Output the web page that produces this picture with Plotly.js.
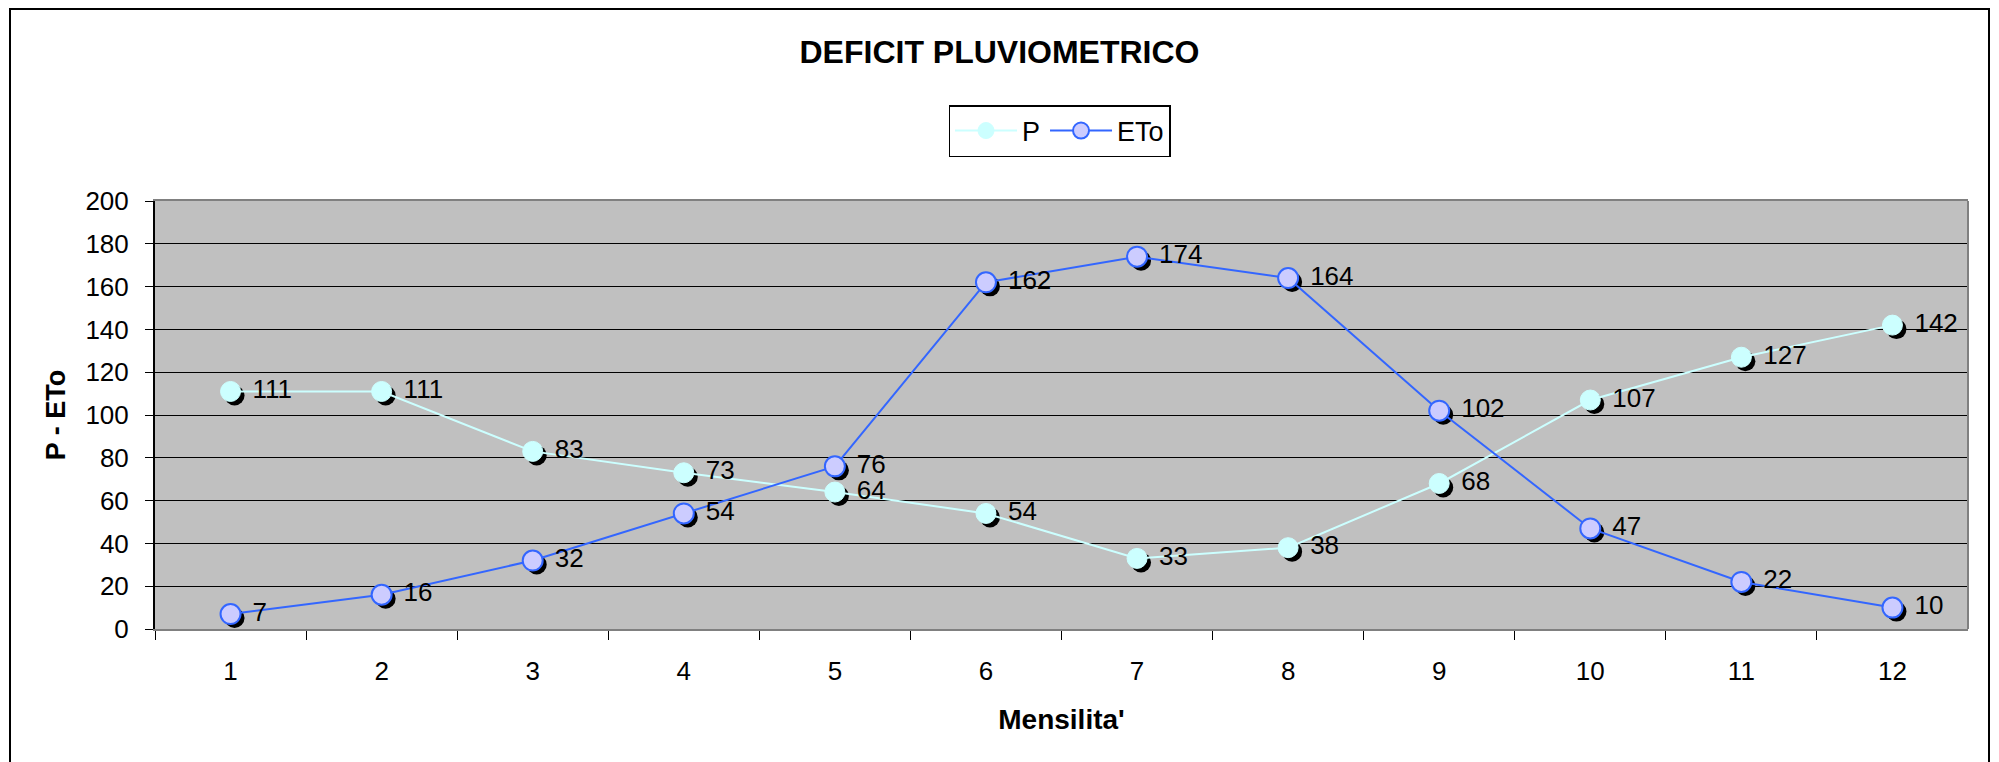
<!DOCTYPE html>
<html>
<head>
<meta charset="utf-8">
<script src="https://cdn.plot.ly/plotly-3.0.1.min.js"></script>
<style>html,body{margin:0;padding:0;background:#fff;}#chart{width:1999px;height:762px;}</style>
</head>
<body>
<div id="chart"></div>
<script>
// ---- data ----
const months = ['1','2','3','4','5','6','7','8','9','10','11','12'];
const pValues = [111, 111, 83, 73, 64, 54, 33, 38, 68, 107, 127, 142];
const etoValues = [7, 16, 32, 54, 76, 162, 174, 164, 102, 47, 22, 10];
const yTicks = [0, 20, 40, 60, 80, 100, 120, 140, 160, 180, 200];

// ---- geometry (styling) ----
const W = 1999, H = 762;
const plotL = 155, plotR = 1968, plotT = 201, plotB = 629;
const shadowPx = 4;
const labelPx = 22;
const xDom = [plotL / W, plotR / W];
const yDom = [(H - plotB) / H, (H - plotT) / H];
const xPerPx = 12 / (plotR - plotL);
const yPerPx = 200 / (plotB - plotT);

const FONT = 'Arial, "Liberation Sans", sans-serif';
const labelFont = {family: FONT, size: 26, color: '#000000'};

const shadowStyle = {size: 20, color: '#000000', line: {width: 0}};

const traces = [
  // shadows (base subplot, offset by a few pixels)
  {x: months, y: pValues, xaxis: 'x', yaxis: 'y', type: 'scatter', mode: 'markers',
   marker: shadowStyle, showlegend: false, hoverinfo: 'skip', cliponaxis: false},
  {x: months, y: etoValues, xaxis: 'x', yaxis: 'y', type: 'scatter', mode: 'markers',
   marker: shadowStyle, showlegend: false, hoverinfo: 'skip', cliponaxis: false},
  // main series
  {x: months, y: pValues, xaxis: 'x2', yaxis: 'y2', type: 'scatter', name: 'P',
   mode: 'lines+markers',
   line: {color: '#CCFFFF', width: 2},
   marker: {size: 20, color: '#CCFFFF', line: {color: '#CCFFFF', width: 1}},
   cliponaxis: false},
  {x: months, y: etoValues, xaxis: 'x2', yaxis: 'y2', type: 'scatter', name: 'ETo',
   mode: 'lines+markers',
   line: {color: '#3366FF', width: 2},
   marker: {size: 20, color: '#CCCCFF', line: {color: '#3366FF', width: 2}},
   cliponaxis: false},
  // data labels (on an overlay axis shifted so labels sit right of the markers)
  {x: months, y: pValues, xaxis: 'x3', yaxis: 'y2', type: 'scatter', mode: 'text',
   text: pValues.map(String), textposition: 'middle right', textfont: labelFont,
   showlegend: false, hoverinfo: 'skip', cliponaxis: false},
  {x: months, y: etoValues, xaxis: 'x3', yaxis: 'y2', type: 'scatter', mode: 'text',
   text: etoValues.map(String), textposition: 'middle right', textfont: labelFont,
   showlegend: false, hoverinfo: 'skip', cliponaxis: false}
];

const layout = {
  width: W, height: H,
  margin: {l: 0, r: 0, t: 0, b: 0},
  paper_bgcolor: '#FFFFFF',
  plot_bgcolor: '#C0C0C0',
  font: {family: FONT, color: '#000000', size: 26},
  showlegend: true,
  title: {text: '<b>DEFICIT PLUVIOMETRICO</b>', font: {family: FONT, size: 32, color: '#000000'},
          x: 0.5, xref: 'paper', xanchor: 'center', y: (H - 52) / H, yref: 'paper', yanchor: 'middle'},
  legend: {orientation: 'h', x: (941 + 1178) / 2 / W, xanchor: 'center', y: (H - 105) / H, yanchor: 'top',
           bordercolor: '#000000', borderwidth: 1.5, bgcolor: '#FFFFFF',
           font: {family: FONT, size: 27, color: '#000000'}, itemwidth: 62, tracegroupgap: 0},
  // base (shadow) axes, hidden, ranges shifted so marks land a few pixels right/down
  xaxis: {domain: xDom, type: 'category', visible: false,
          range: [-0.5 - shadowPx * xPerPx, 11.5 - shadowPx * xPerPx], fixedrange: true},
  yaxis: {domain: yDom, visible: false,
          range: [0 + shadowPx * yPerPx, 200 + shadowPx * yPerPx], fixedrange: true},
  // label axis, hidden, shifted left so labels land right of the points
  xaxis3: {overlaying: 'x', type: 'category', visible: false,
           range: [-0.5 - labelPx * xPerPx, 11.5 - labelPx * xPerPx], fixedrange: true},
  // visible axes
  xaxis2: {overlaying: 'x', type: 'category', range: [-0.5, 11.5], side: 'bottom',
           tickson: 'boundaries', ticks: 'outside', ticklen: 9, tickwidth: 1, tickcolor: '#000000',
           showline: true, linecolor: '#808080', linewidth: 2, mirror: true,
           showgrid: false, zeroline: false, ticklabelstandoff: 18,
           tickfont: {family: FONT, size: 26, color: '#000000'},
           title: {text: "<b>Mensilita'</b>", font: {family: FONT, size: 28, color: '#000000'}, standoff: 24},
           fixedrange: true},
  yaxis2: {overlaying: 'y', side: 'left', range: [0, 200], tickvals: yTicks, ticktext: yTicks.map(String),
           ticks: 'outside', ticklen: 8, tickwidth: 1, tickcolor: '#000000',
           showline: true, linecolor: '#000000', linewidth: 2,
           showgrid: true, gridcolor: '#000000', gridwidth: 1, zeroline: false,
           ticklabelstandoff: 11,
           tickfont: {family: FONT, size: 26, color: '#000000'},
           title: {text: '<b>P - ETo</b>', font: {family: FONT, size: 27, color: '#000000'}, standoff: 12},
           fixedrange: true},
  shapes: [
    {type: 'line', xref: 'paper', yref: 'paper', x0: xDom[1], x1: xDom[1], y0: yDom[0], y1: yDom[1],
     line: {color: '#808080', width: 2}},
    {type: 'rect', xref: 'paper', yref: 'paper', x0: 10 / W, x1: 1989 / W, y0: -0.02, y1: (H - 9) / H,
     line: {color: '#000000', width: 2}, fillcolor: 'rgba(0,0,0,0)', layer: 'below'}
  ]
};

Plotly.newPlot('chart', traces, layout, {displayModeBar: false, staticPlot: true});
</script>
</body>
</html>
